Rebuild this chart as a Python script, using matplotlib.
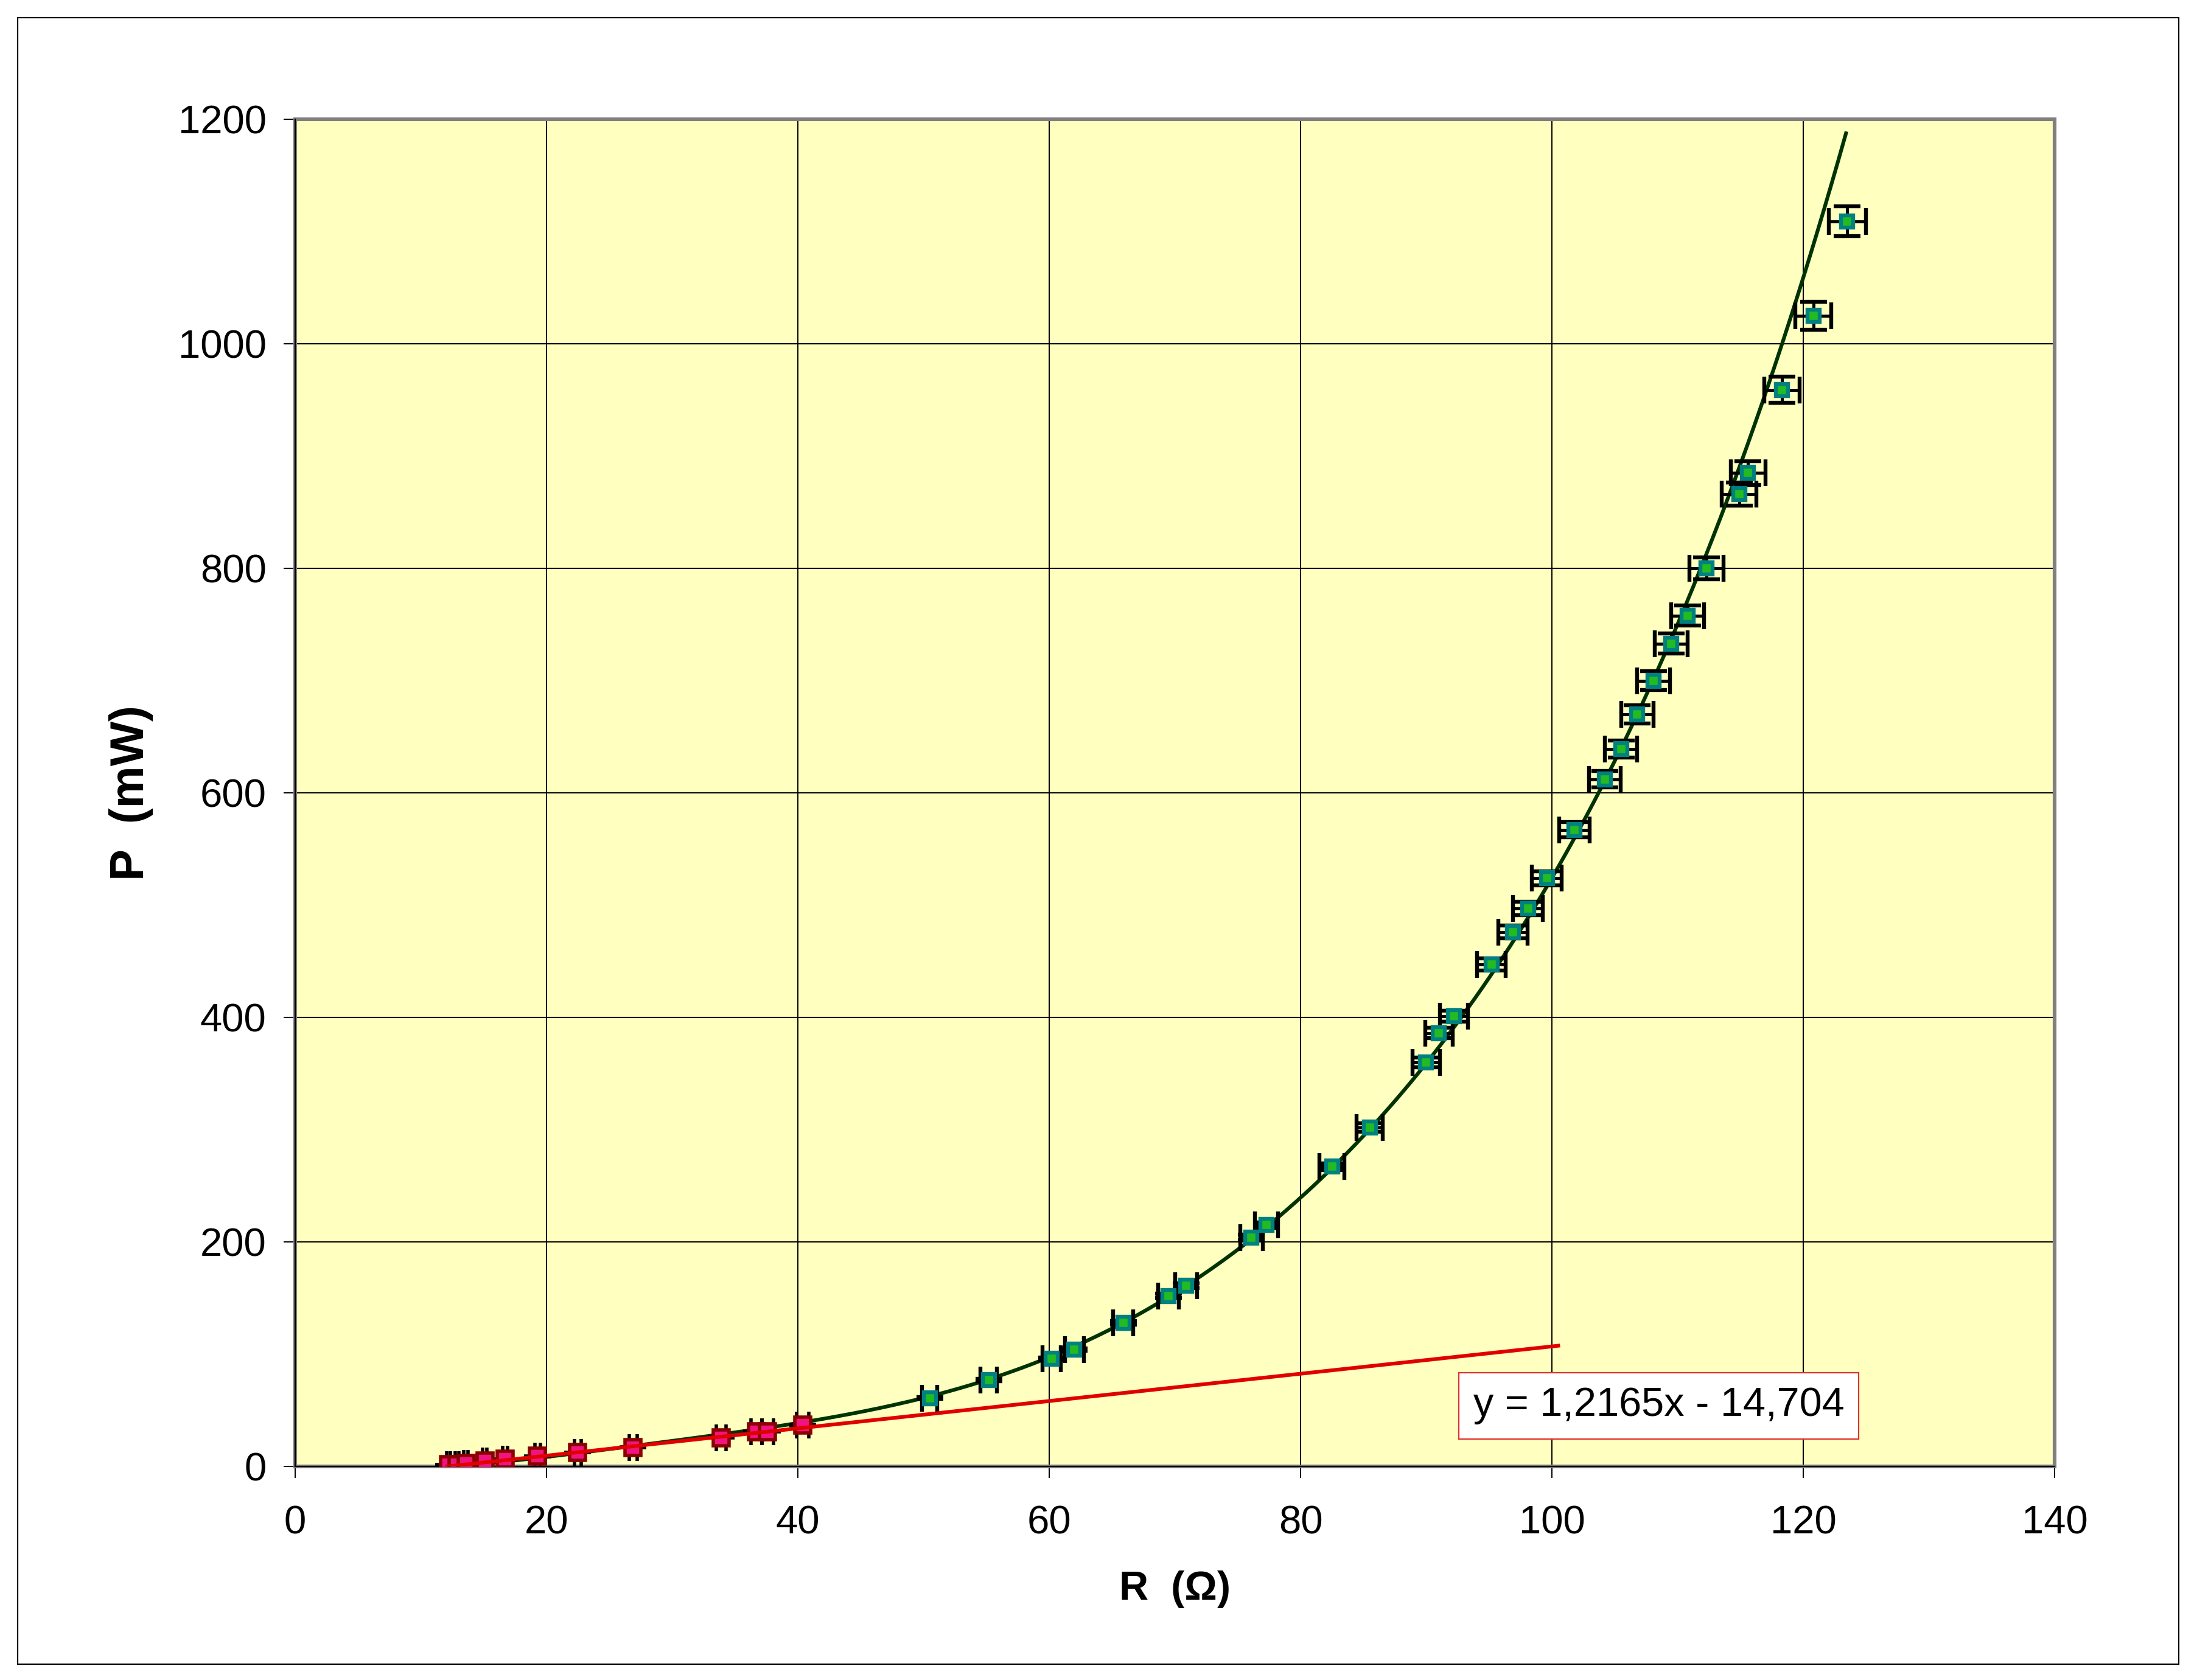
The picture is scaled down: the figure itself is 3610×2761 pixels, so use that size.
import matplotlib
matplotlib.use("Agg")
import matplotlib.pyplot as plt
import numpy as np
from matplotlib.patches import Rectangle

plt.rcParams['font.family'] = ['Liberation Sans', 'DejaVu Sans']

# Datos: zona baja (ajuste lineal)
R_rojo = [12.2, 12.9, 13.6, 15.1, 16.7, 19.3, 22.5, 26.9, 33.9, 36.7, 37.6, 40.4]
P_rojo = [1.4, 1.8, 2.7, 5.0, 6.3, 9.0, 12.6, 17.0, 25.7, 31.1, 31.1, 37.0]

# Datos: zona alta
R_verde = [50.5, 55.2, 60.2, 62.0, 65.9, 69.5, 70.9, 76.1, 77.3, 82.5, 85.5,
           90.0, 91.0, 92.2, 95.2, 96.9, 98.1, 99.6, 101.8, 104.2, 105.5,
           106.8, 108.1, 109.5, 110.8, 112.3, 114.9, 115.6, 118.3, 120.8, 123.5]
P_verde = [61, 77, 96, 104, 128, 152, 161, 204, 215, 267, 302,
           360, 386, 401, 447, 476, 497, 524, 567, 612, 639,
           670, 700, 733, 758, 800, 866, 885, 959, 1025, 1109]

# incertidumbre relativa de R y P
err_rel = 0.012

# curva de tendencia
R_curva = [12.2, 20, 30, 34.6, 40.4, 48.6, 55.2, 60.2, 65.9, 70.7, 76.0, 78.2,
           82.5, 90.0, 93.1, 95.6, 98.3, 102.1, 103.9, 108.2, 112.2, 113.7,
           116.1, 118.2, 119.0, 123.4]
P_curva = [0.5, 9.5, 21, 30.4, 39, 59.6, 77, 96, 128, 162, 204, 217,
           267, 360, 400, 447, 497, 567, 600, 710, 800, 855,
           927, 1000, 1025, 1186]

# recta de ajuste
pendiente = 1.2165
ordenada = -14.704
R_recta_max = 100.5
ecuacion = "y = 1,2165x - 14,704"

fig = plt.figure(figsize=(18.05, 13.805), dpi=200)
ax = fig.add_axes([0.1343, 0.1271, 0.8009, 0.8019])
ax.set_facecolor('#FFFFC0')

# curva polinomica
pol = np.polynomial.Polynomial.fit(R_curva, P_curva, 7)
xc = np.linspace(min(R_curva), max(R_curva), 400)
ax.plot(xc, pol(xc), color='#003300', lw=2.2, zorder=3)

Rv = np.array(R_verde)
Pv = np.array(P_verde)
ax.errorbar(Rv, Pv, xerr=Rv * err_rel, yerr=Pv * err_rel, fmt='s', ms=7,
            mfc='#22BB22', mec='#008080', mew=2.3, ecolor='black',
            elinewidth=1.8, capsize=7.75, capthick=1.8, zorder=4)

Rr = np.array(R_rojo)
Pr = np.array(P_rojo)
ax.errorbar(Rr, Pr, xerr=Rr * err_rel, yerr=Pr * err_rel, fmt='s', ms=9.2,
            mfc='#F01480', mec='#8B0000', mew=2.0, ecolor='black',
            elinewidth=1.8, capsize=7.75, capthick=1.8, zorder=5)

# recta
x0 = -ordenada / pendiente
xr = np.array([x0, R_recta_max])
ax.plot(xr, pendiente * xr + ordenada, color='#E00000', lw=2.2, zorder=6)

ax.text(0.775, 0.045, ecuacion, transform=ax.transAxes, ha='center',
        va='center', fontsize=24,
        bbox=dict(boxstyle='square,pad=0.35', fc='white', ec='#E03030', lw=0.8),
        zorder=7)

ax.set_xlim(0, 140)
ax.set_ylim(0, 1200)
ax.set_xticks(range(0, 141, 20))
ax.set_yticks(range(0, 1201, 200))
ax.set_axisbelow(True)
ax.grid(True, color='black', lw=0.7)
for s in ax.spines.values():
    s.set_color('#808080')
    s.set_linewidth(2.2)
ax.axhline(0, color='black', lw=0.8, zorder=2.6, clip_on=False)
ax.axvline(0, color='black', lw=0.8, zorder=2.6, clip_on=False)

ax.tick_params(direction='out', length=7, width=0.7, color='black', labelsize=23.5)
ax.tick_params(axis='y', pad=10)
ax.tick_params(axis='x', pad=16)

ax.set_xlabel("R  (Ω)", fontsize=24, fontweight='bold')
ax.set_ylabel("P  (mW)", fontsize=28, fontweight='bold')
ax.xaxis.set_label_coords(0.5, -0.077)
ax.yaxis.set_label_coords(-0.0806, 0.5)

# marco exterior
fig.patches.append(Rectangle((0.008, 0.0094), 0.9837, 0.980,
                             transform=fig.transFigure, fill=False,
                             ec='black', lw=0.8))

fig.savefig('out.png', dpi=200)
